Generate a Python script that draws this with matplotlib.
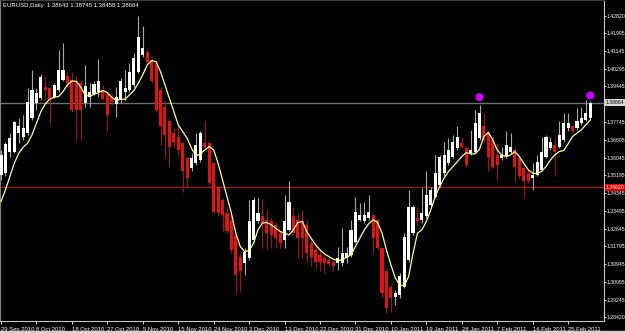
import numpy as np
import matplotlib.pyplot as plt
from matplotlib.patches import Rectangle

plt.rcParams['font.family'] = ['Liberation Sans', 'DejaVu Sans']

# daily candles, 29 Sep 2010 -> early Mar 2011
opens = [
    1.3522, 1.3530, 1.3633, 1.3633, 1.3721, 1.3705, 1.3721, 1.3792, 1.3864, 1.3888,
    1.3941, 1.3936, 1.3896, 1.3928, 1.3976, 1.3995, 1.3976, 1.3968, 1.3960, 1.3864,
    1.3893, 1.3909, 1.3920, 1.3928, 1.3909, 1.3896, 1.3861, 1.3880, 1.3920, 1.3928,
    1.3952, 1.4015, 1.4095, 1.4111, 1.4071, 1.4055, 1.3928, 1.3848, 1.3777, 1.3721,
    1.3705, 1.3673, 1.3601, 1.3553, 1.3577, 1.3593, 1.3673, 1.3673, 1.3577, 1.3466,
    1.3402, 1.3338, 1.3299, 1.3235, 1.3131, 1.3099, 1.3123, 1.3211, 1.3299, 1.3323,
    1.3307, 1.3299, 1.3283, 1.3243, 1.3211, 1.3259, 1.3323, 1.3307, 1.3299, 1.3283,
    1.3195, 1.3163, 1.3139, 1.3123, 1.3115, 1.3107, 1.3099, 1.3099, 1.3123, 1.3139,
    1.3203, 1.3307, 1.3299, 1.3315, 1.3331, 1.3307, 1.3171, 1.3060, 1.2988, 1.2940,
    1.2948, 1.2988, 1.3115, 1.3243, 1.3315, 1.3307, 1.3323, 1.3378, 1.3418, 1.3474,
    1.3530, 1.3577, 1.3609, 1.3649, 1.3673, 1.3649, 1.3625, 1.3633, 1.3697, 1.3753,
    1.3721, 1.3689, 1.3617, 1.3601, 1.3609, 1.3633, 1.3641, 1.3601, 1.3553, 1.3530,
    1.3506, 1.3522, 1.3546, 1.3609, 1.3649, 1.3665, 1.3657, 1.3689, 1.3745, 1.3753,
    1.3745, 1.3769, 1.3784, 1.3792]
highs = [
    1.3641, 1.3681, 1.3724, 1.3781, 1.3792, 1.3808, 1.3936, 1.4023, 1.3936, 1.4004,
    1.3992, 1.3944, 1.3960, 1.4119, 1.4154, 1.4015, 1.4015, 1.3995, 1.3976, 1.4047,
    1.3960, 1.3968, 1.4074, 1.3952, 1.3915, 1.3909, 1.3941, 1.3984, 1.4023, 1.4055,
    1.4103, 1.4282, 1.4231, 1.4122, 1.4084, 1.4063, 1.3936, 1.3880, 1.3784, 1.3745,
    1.3753, 1.3681, 1.3609, 1.3625, 1.3721, 1.3729, 1.3777, 1.3681, 1.3585, 1.3474,
    1.3410, 1.3370, 1.3323, 1.3243, 1.3147, 1.3171, 1.3402, 1.3415, 1.3410, 1.3405,
    1.3354, 1.3315, 1.3294, 1.3259, 1.3426, 1.3490, 1.3370, 1.3338, 1.3354, 1.3307,
    1.3211, 1.3187, 1.3163, 1.3139, 1.3131, 1.3115, 1.3179, 1.3267, 1.3179, 1.3307,
    1.3418, 1.3386, 1.3394, 1.3426, 1.3331, 1.3315, 1.3179, 1.3068, 1.2996, 1.2972,
    1.3052, 1.3243, 1.3450, 1.3378, 1.3370, 1.3458, 1.3538, 1.3466, 1.3617, 1.3617,
    1.3681, 1.3697, 1.3713, 1.3753, 1.3705, 1.3657, 1.3737, 1.3832, 1.3856, 1.3816,
    1.3737, 1.3705, 1.3673, 1.3657, 1.3729, 1.3721, 1.3649, 1.3609, 1.3561, 1.3546,
    1.3577, 1.3617, 1.3705, 1.3713, 1.3705, 1.3697, 1.3777, 1.3816, 1.3816, 1.3761,
    1.3840, 1.3848, 1.3880, 1.38745]
lows = [
    1.3498, 1.3517, 1.3609, 1.3625, 1.3673, 1.3689, 1.3713, 1.3784, 1.3832, 1.3880,
    1.3880, 1.3765, 1.3888, 1.3920, 1.3968, 1.3944, 1.3824, 1.3689, 1.3689, 1.3848,
    1.3848, 1.3904, 1.3896, 1.3880, 1.3729, 1.3856, 1.3800, 1.3864, 1.3880, 1.3920,
    1.3944, 1.4008, 1.4087, 1.4052, 1.3960, 1.3824, 1.3665, 1.3609, 1.3561, 1.3657,
    1.3617, 1.3442, 1.3458, 1.3538, 1.3569, 1.3585, 1.3649, 1.3474, 1.3338, 1.3323,
    1.3251, 1.3243, 1.3147, 1.2956, 1.2964, 1.3044, 1.3115, 1.3203, 1.3291, 1.3171,
    1.3163, 1.3171, 1.3171, 1.3171, 1.3171, 1.3251, 1.3235, 1.3123, 1.3123, 1.3107,
    1.3084, 1.3076, 1.3060, 1.3052, 1.3084, 1.3060, 1.3068, 1.3084, 1.3099, 1.3131,
    1.3195, 1.3299, 1.3291, 1.3307, 1.3147, 1.3163, 1.2940, 1.2861, 1.2868, 1.2900,
    1.2932, 1.2980, 1.3107, 1.3235, 1.3275, 1.3291, 1.3315, 1.3370, 1.3410, 1.3466,
    1.3514, 1.3569, 1.3601, 1.3641, 1.3649, 1.3561, 1.3617, 1.3625, 1.3689, 1.3681,
    1.3538, 1.3553, 1.3498, 1.3593, 1.3601, 1.3625, 1.3490, 1.3506, 1.3418, 1.3482,
    1.3450, 1.3514, 1.3538, 1.3601, 1.3641, 1.3514, 1.3649, 1.3681, 1.3729, 1.3721,
    1.3737, 1.3761, 1.3777, 1.3784]
closes = [
    1.3617, 1.3670, 1.3697, 1.3772, 1.3753, 1.3745, 1.3872, 1.3928, 1.3912, 1.3988,
    1.3925, 1.3880, 1.3952, 1.4023, 1.4023, 1.3963, 1.3832, 1.3832, 1.3832, 1.3947,
    1.3920, 1.3957, 1.3968, 1.3886, 1.3808, 1.3872, 1.3896, 1.3968, 1.3936, 1.4015,
    1.4079, 1.4183, 1.4127, 1.4063, 1.3968, 1.3832, 1.3753, 1.3713, 1.3657, 1.3681,
    1.3641, 1.3538, 1.3506, 1.3601, 1.3665, 1.3724, 1.3657, 1.3482, 1.3346, 1.3338,
    1.3331, 1.3251, 1.3163, 1.3044, 1.3060, 1.3155, 1.3299, 1.3402, 1.3338, 1.3291,
    1.3243, 1.3235, 1.3219, 1.3195, 1.3299, 1.3394, 1.3243, 1.3219, 1.3219, 1.3147,
    1.3131, 1.3107, 1.3107, 1.3099, 1.3096, 1.3084, 1.3123, 1.3147, 1.3147, 1.3259,
    1.3346, 1.3331, 1.3331, 1.3346, 1.3219, 1.3171, 1.2956, 1.2884, 1.2932, 1.2956,
    1.3036, 1.3227, 1.3370, 1.3370, 1.3299, 1.3338, 1.3426, 1.3450, 1.3530, 1.3609,
    1.3617, 1.3641, 1.3681, 1.3705, 1.3657, 1.3569, 1.3641, 1.3769, 1.3816, 1.3689,
    1.3609, 1.3561, 1.3569, 1.3617, 1.3665, 1.3657, 1.3561, 1.3514, 1.3490, 1.3490,
    1.3522, 1.3585, 1.3633, 1.3705, 1.3681, 1.3633, 1.3713, 1.3769, 1.3769, 1.3729,
    1.3777, 1.3792, 1.3816, 1.38664]

# yellow moving average
ma = [
    1.3394, 1.3450, 1.3514, 1.3577, 1.3625, 1.3654, 1.3673, 1.3713, 1.3769, 1.3824,
    1.3861, 1.3883, 1.3893, 1.3896, 1.3920, 1.3952, 1.3971, 1.3968, 1.3941, 1.3904,
    1.3896, 1.3907, 1.3915, 1.3925, 1.3915, 1.3893, 1.3877, 1.3883, 1.3883, 1.3904,
    1.3925, 1.3960, 1.4000, 1.4047, 1.4068, 1.4063, 1.4015, 1.3952, 1.3888, 1.3824,
    1.3761, 1.3729, 1.3697, 1.3649, 1.3612, 1.3622, 1.3641, 1.3657, 1.3641, 1.3577,
    1.3498, 1.3418, 1.3338, 1.3243, 1.3179, 1.3155, 1.3160, 1.3195, 1.3259, 1.3291,
    1.3294, 1.3283, 1.3267, 1.3251, 1.3243, 1.3235, 1.3259, 1.3294, 1.3299, 1.3251,
    1.3219, 1.3187, 1.3163, 1.3144, 1.3131, 1.3119, 1.3112, 1.3115, 1.3128, 1.3139,
    1.3179, 1.3219, 1.3259, 1.3288, 1.3307, 1.3294, 1.3243, 1.3163, 1.3092, 1.3028,
    1.2996, 1.2991, 1.3036, 1.3147, 1.3243, 1.3259, 1.3299, 1.3354, 1.3418, 1.3466,
    1.3506, 1.3538, 1.3561, 1.3585, 1.3609, 1.3628, 1.3622, 1.3622, 1.3644, 1.3705,
    1.3724, 1.3689, 1.3641, 1.3617, 1.3609, 1.3617, 1.3633, 1.3609, 1.3577, 1.3546,
    1.3530, 1.3527, 1.3538, 1.3561, 1.3593, 1.3617, 1.3633, 1.3638, 1.3670, 1.3705,
    1.3721, 1.3737, 1.3761, 1.3784]

# fractal dots (bar index, price)
dot_bars = [108, 133]
dot_prices = [1.3893, 1.3901]

bid_price = 1.38664
red_level = 1.3462

price_ticks = [1.42820, 1.41995, 1.41145, 1.40295, 1.39445, 1.37745, 1.36895,
               1.36045, 1.35195, 1.34345, 1.33495, 1.32645, 1.31795, 1.30945,
               1.30095, 1.29245, 1.28420]
date_labels = ['29 Sep 2010', '8 Oct 2010', '18 Oct 2010', '27 Oct 2010',
               '5 Nov 2010', '15 Nov 2010', '24 Nov 2010', '3 Dec 2010',
               '13 Dec 2010', '22 Dec 2010', '31 Dec 2010', '10 Jan 2011',
               '19 Jan 2011', '28 Jan 2011', '7 Feb 2011', '16 Feb 2011',
               '25 Feb 2011']
header = 'EURUSD,Daily  1.38643 1.38745 1.38458 1.38664'

o = np.array(opens)
h = np.array(highs)
l = np.array(lows)
c = np.array(closes)
x = np.arange(len(c))
up = c >= o

fig = plt.figure(figsize=(6.25, 3.33), dpi=100, facecolor='black')
ax = fig.add_axes([0, 12 / 333, 604 / 625, 321 / 333])
ax.set_facecolor('black')

# horizontal levels behind the candles
ax.axhline(bid_price, color='#6e6e6e', lw=1.0, zorder=1)
ax.axhline(red_level, color='#9c1c1c', lw=1.0, zorder=1)

# wicks
ax.vlines(x[up], l[up], h[up], color='#a8a8a8', lw=0.8, zorder=2)
ax.vlines(x[~up], l[~up], h[~up], color='#a01414', lw=0.8, zorder=2)

# bodies
body = np.maximum(np.abs(c - o), 0.0003)
ax.bar(x[up], body[up], bottom=o[up], width=0.7, color='white',
       edgecolor='none', zorder=3)
ax.bar(x[~up], body[~up], bottom=c[~up], width=0.7, color='#e01212',
       edgecolor='none', zorder=3)

ax.plot(x, ma, color='#ffff90', lw=0.9, zorder=4)
ax.scatter(dot_bars, dot_prices, s=34, color='#c800ff', edgecolors='none', zorder=5)

ax.set_xlim(-0.226, 136.1)
ax.set_ylim(1.28231, 1.43575)

ax.yaxis.tick_right()
ax.set_yticks(price_ticks)
ax.set_yticklabels([f'{p:.5f}' for p in price_ticks])
ax.tick_params(axis='y', colors='white', labelsize=3.7, length=1.5, width=0.6, pad=0.5)

ax.set_xticks(np.arange(0, 8 * len(date_labels), 8))
ax.set_xticklabels(date_labels)
for t in ax.get_xticklabels():
    t.set_ha('left')
ax.tick_params(axis='x', colors='white', labelsize=4.2, length=2.5, width=0.6, pad=1.5)

for side in ['right', 'bottom']:
    ax.spines[side].set_color('#c8c8c8')
    ax.spines[side].set_linewidth(0.8)
ax.spines['left'].set_color('#808080')
ax.spines['top'].set_color('#404040')

# price boxes on the right scale
ytr = ax.get_yaxis_transform()
ax.text(1.003, bid_price, f'{bid_price:.5f}', transform=ytr, fontsize=3.7,
        color='black', va='center', ha='left', clip_on=False,
        bbox=dict(boxstyle='square,pad=0.15', fc='#d8d8d8', ec='none'))
ax.text(1.003, red_level, '1.34620', transform=ytr, fontsize=3.7,
        color='white', va='center', ha='left', clip_on=False,
        bbox=dict(boxstyle='square,pad=0.15', fc='#e00000', ec='none'))

fig.text(3 / 625, 1 - 5 / 333, header, color='white', fontsize=4.3, va='center')

fig.patches.append(Rectangle((0, 0), 1, 2 / 333, transform=fig.transFigure,
                             color='#d4d0c8', zorder=0))

fig.savefig('out.png', dpi=100, facecolor='black')
